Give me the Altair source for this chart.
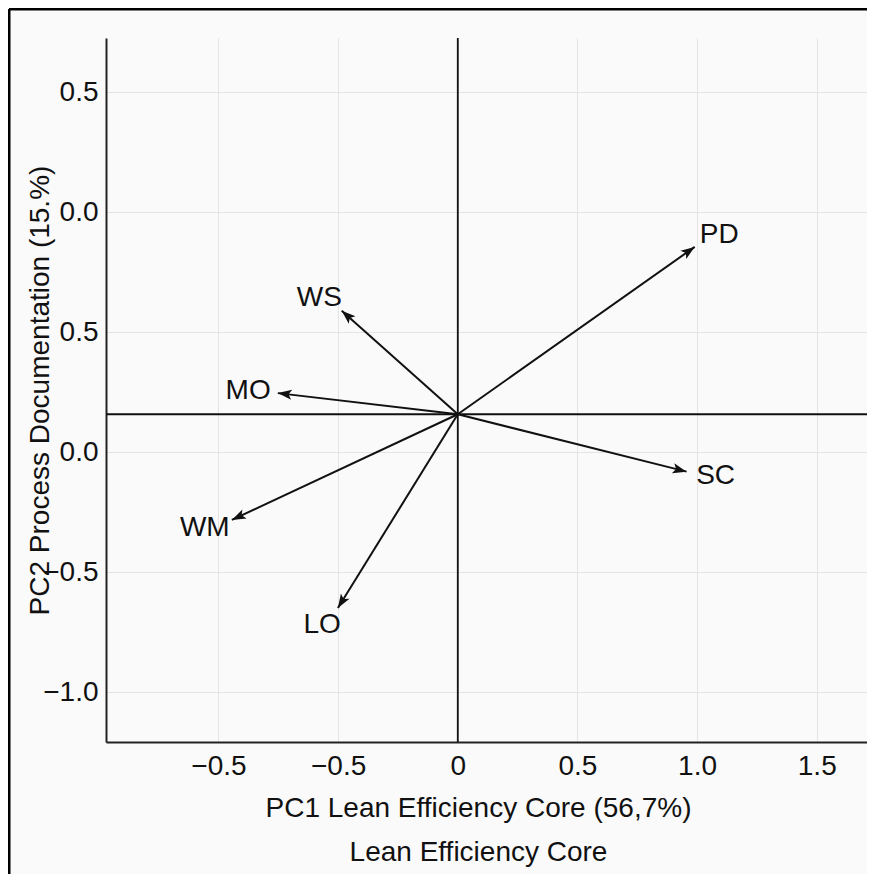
import json
import altair as alt
import pandas as pd

# ---- data ----
variables = ["PD", "SC", "WS", "MO", "WM", "LO"]
pc1 = [0.99, 0.956, -0.485, -0.752, -0.944, -0.501]
pc2 = [0.855, -0.081, 0.589, 0.246, -0.282, -0.649]
origin_x = 0.0
origin_y = 0.158

x_ticks = [-1.0, -0.5, 0, 0.5, 1.0, 1.5]
x_tick_labels = ["\u22120.5", "\u22120.5", "0", "0.5", "1.0", "1.5"]
y_ticks = [1.5, 1.0, 0.5, 0, -0.5, -1.0]
y_tick_labels = ["0.5", "0.0", "0.5", "0.0", "\u22120.5", "\u22121.0"]

x_domain = [-1.47, 1.71]
y_domain = [-1.207, 1.725]

x_title = ["PC1 Lean Efficiency Core (56,7%)", "Lean Efficiency Core"]
y_title = "PC2 Process Documentation (15.%)"

FONT = "Liberation Sans"
INK = "#111111"

df = pd.DataFrame({"var": variables, "pc1": pc1, "pc2": pc2})
df["x0"] = origin_x
df["y0"] = origin_y

x_expr = f"{json.dumps(x_tick_labels, ensure_ascii=False)}[indexof({json.dumps(x_ticks)}, datum.value)]"
y_expr = f"{json.dumps(y_tick_labels, ensure_ascii=False)}[indexof({json.dumps(y_ticks)}, datum.value)]"

xs = alt.Scale(domain=x_domain, nice=False, zero=False)
ys = alt.Scale(domain=y_domain, nice=False, zero=False)

base = alt.Chart(df).transform_calculate(
    dx="datum.pc1 - datum.x0",
    dy="datum.pc2 - datum.y0",
).transform_calculate(
    L="sqrt(datum.dx*datum.dx + datum.dy*datum.dy)",
    ang="(atan2(datum.dx, datum.dy) * 180 / PI + 360) % 360",
).transform_calculate(
    lx="datum.pc1 + 0.125 * datum.dx / datum.L",
    ly="datum.pc2 + 0.083 * datum.dy / datum.L",
)

x_axis = alt.Axis(
    values=x_ticks, labelExpr=x_expr, title=x_title,
    titleY=74, titleX=372, titleBaseline="alphabetic", titleLineHeight=44,
    labelPadding=10,
)
y_axis = alt.Axis(
    values=y_ticks, labelExpr=y_expr, title=y_title,
    titleX=-66, titleY=352, titleBaseline="middle", titleAlign="center", titleAngle=270,
    labelPadding=8,
)

arrows = base.mark_rule(color=INK, strokeWidth=2).encode(
    x=alt.X("x0:Q", scale=xs, axis=x_axis),
    y=alt.Y("y0:Q", scale=ys, axis=y_axis),
    x2="pc1:Q",
    y2="pc2:Q",
)

vline = alt.Chart(pd.DataFrame({"v": [origin_x]})).mark_rule(color=INK, strokeWidth=1.8).encode(
    x=alt.X("v:Q", scale=xs)
)
hline = alt.Chart(pd.DataFrame({"v": [origin_y]})).mark_rule(color=INK, strokeWidth=1.8).encode(
    y=alt.Y("v:Q", scale=ys)
)

heads = base.mark_point(
    shape="M0,0 L0.8,2.2 L0,1.7 L-0.8,2.2 Z",
    filled=True, color=INK, opacity=1, size=160, strokeWidth=0,
).encode(
    x=alt.X("pc1:Q", scale=xs),
    y=alt.Y("pc2:Q", scale=ys),
    angle=alt.Angle("ang:Q", scale=None),
)

labels = base.mark_text(
    font=FONT, fontSize=28, color=INK, align="center", baseline="middle"
).encode(
    x=alt.X("lx:Q", scale=xs),
    y=alt.Y("ly:Q", scale=ys),
    text="var:N",
)

frame_top = alt.Chart(pd.DataFrame({"a": [0]})).mark_rule(color="#000000", strokeWidth=3).encode(
    x=alt.value(-97), x2=alt.value(770), y=alt.value(-29)
)
frame_left = alt.Chart(pd.DataFrame({"a": [0]})).mark_rule(color="#000000", strokeWidth=3).encode(
    x=alt.value(-97), y=alt.value(-29), y2=alt.value(860)
)

chart = alt.layer(
    arrows, vline, hline, heads, labels, frame_top, frame_left
).properties(
    width=761, height=704,
    autosize=alt.AutoSizeParams(type="none"),
    padding={"left": 98, "top": 30, "right": 0, "bottom": 132},
    background="#fafafa",
).configure_view(
    stroke="transparent"
).configure_axis(
    domain=True, domainColor="#222222", domainWidth=2,
    ticks=False, tickSize=0,
    grid=True, gridColor="#e4e4e4", gridWidth=1,
    labelFont=FONT, labelFontSize=28, labelColor=INK,
    titleFont=FONT, titleFontSize=28, titleFontWeight="normal", titleColor=INK,
)

chart.save("out.html", embed_options={"renderer": "svg", "actions": False})
